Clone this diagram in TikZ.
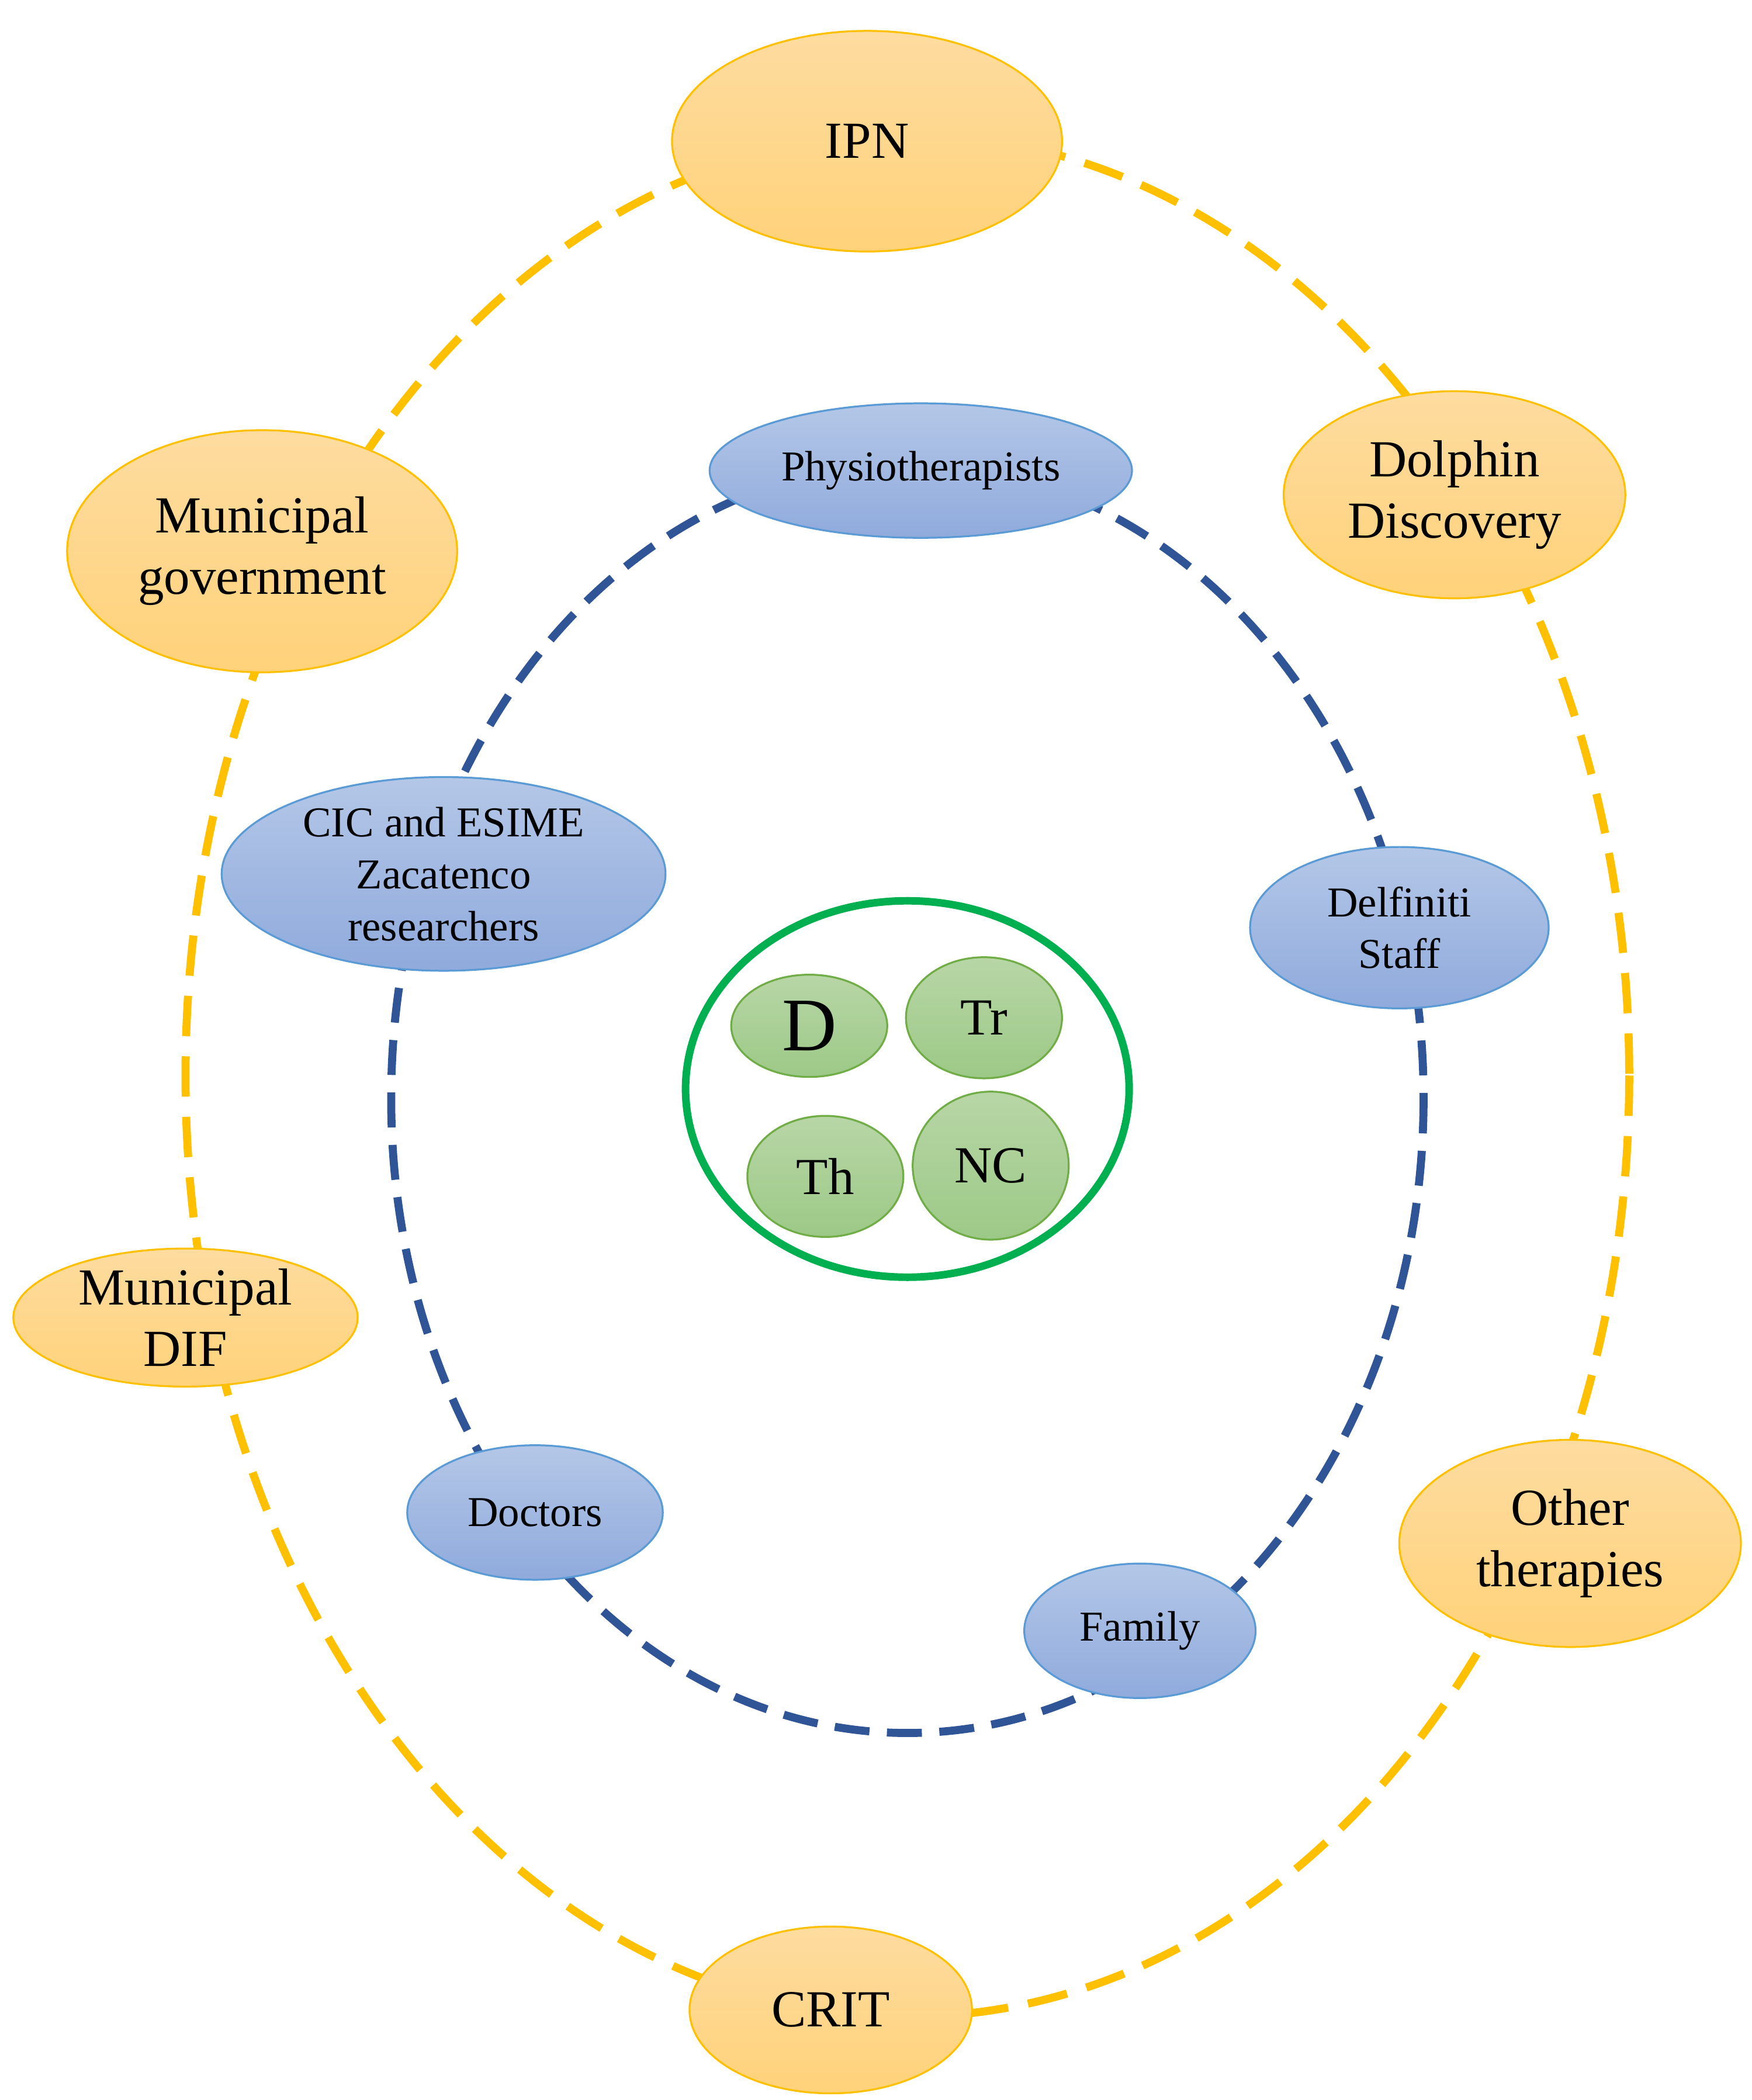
\documentclass[tikz,border=0pt]{standalone}
\usepackage{fontspec}
\setmainfont{Liberation Serif}
\usetikzlibrary{shapes.geometric}
\definecolor{ogold}{HTML}{FFC000}
\definecolor{oblue}{HTML}{2F5597}
\definecolor{ogreen}{HTML}{00B050}
\definecolor{otop}{HTML}{FEDCA0}
\definecolor{obot}{HTML}{FFD27A}
\definecolor{btop}{HTML}{B4C7E7}
\definecolor{bbot}{HTML}{8FAADC}
\definecolor{bline}{HTML}{5B9BD5}
\definecolor{gtop}{HTML}{B8D6A6}
\definecolor{gbot}{HTML}{9CC987}
\definecolor{gline}{HTML}{70AD47}
\tikzset{
	outer/.style={ellipse, draw=ogold, top color=otop, bottom color=obot, font=\fontsize{11}{13}\selectfont, align=center, inner sep=0pt},
	inner/.style={ellipse, draw=bline, top color=btop, bottom color=bbot, font=\fontsize{9}{11}\selectfont, align=center, inner sep=0pt},
	core/.style={ellipse, draw=gline, top color=gtop, bottom color=gbot, font=\fontsize{11}{13}\selectfont, inner sep=0pt}
}
\begin{document}
\begin{tikzpicture}[x=0.01cm, y=-0.01cm]
	\useasboundingbox (0,0) rectangle (1303,1562);

	\draw
		[ogold, line width=1.7pt, dash pattern=on 3mm off 1.5mm] (675,800) ellipse [x radius=537, y radius=700];

	\draw
		[oblue, line width=1.7pt, dash pattern=on 2.6mm off 1.3mm] (675,817) ellipse [x radius=384, y radius=472];

	\draw
		[ogreen, line width=1.6pt] (675,810) ellipse [x radius=165, y radius=140];

	\node [outer, minimum width=2.9cm, minimum height=1.64cm] (ipn) at (645,105) {IPN};
	\node [outer, minimum width=2.54cm, minimum height=1.54cm] (dolphin) at (1082,368) {Dolphin\\Discovery};
	\node [outer, minimum width=2.9cm, minimum height=1.8cm] (gov) at (195,410) {Municipal\\government};
	\node [outer, minimum width=2.54cm, minimum height=1.54cm] (other) at (1168,1148) {Other\\therapies};
	\node [outer, minimum width=2.56cm, minimum height=1.0cm] (dif) at (138,980) {Municipal\\DIF};
	\node [outer, minimum width=2.1cm, minimum height=1.24cm] (crit) at (618,1495) {CRIT};

	\node [inner, minimum width=3.14cm, minimum height=1.0cm] (physio) at (685,350) {Physiotherapists};
	\node [inner, minimum width=3.3cm, minimum height=1.44cm] (cic) at (330,650) {CIC and ESIME\\Zacatenco\\researchers};
	\node [inner, minimum width=2.22cm, minimum height=1.2cm] (staff) at (1041,690) {Delfiniti\\Staff};
	\node [inner, minimum width=1.9cm, minimum height=1.0cm] (doctors) at (398,1125) {Doctors};
	\node [inner, minimum width=1.72cm, minimum height=1.0cm] (family) at (848,1213) {Family};

	\node [core, minimum width=1.16cm, minimum height=0.76cm, font=\fontsize{16}{18}\selectfont] (d) at (602,763) {D};
	\node [core, minimum width=1.16cm, minimum height=0.9cm] (tr) at (732,757) {Tr};
	\node [core, minimum width=1.16cm, minimum height=0.9cm] (th) at (614,875) {Th};
	\node [core, minimum width=1.16cm, minimum height=1.1cm] (nc) at (737,867) {NC};
\end{tikzpicture}
\end{document}
